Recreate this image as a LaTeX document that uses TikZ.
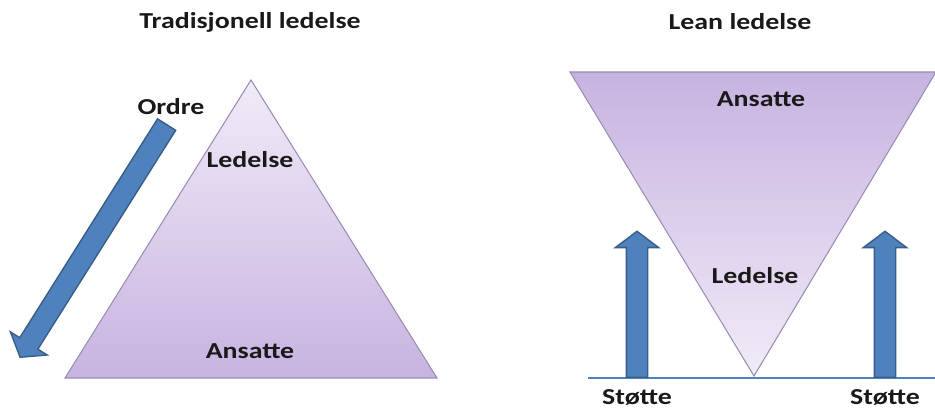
\documentclass[tikz,border=0pt]{standalone}
\usepackage{fontspec}
\setmainfont[FakeStretch=1.22]{Carlito}
\usepackage{tikz}
\usetikzlibrary{shapes.arrows,positioning,calc}

\definecolor{lilalys}{HTML}{F1EBF8}
\definecolor{lilamork}{HTML}{C7B3E0}
\definecolor{lilakant}{HTML}{9A8CB2}
\definecolor{pilblaa}{HTML}{4F81BD}
\definecolor{pilkant}{HTML}{385D8A}

\begin{document}
\begin{tikzpicture}[
    label/.style={font=\fontsize{13}{15}\selectfont\bfseries, text=black!90, inner sep=0pt},
    tri/.style={draw=lilakant, line width=0.6pt},
    pil/.style={single arrow, draw=pilkant, fill=pilblaa, line width=0.8pt,
        inner xsep=0pt, inner ysep=0.2cm, single arrow head extend=0.22cm,
        single arrow tip angle=106, anchor=tail}
]
    \useasboundingbox (0,0) rectangle (18.7,8.32);

    % tradisjonell ledelse
    \coordinate (topp) at (5.02,6.72);
    \coordinate (vbunn) at (1.30,0.76);
    \coordinate (hbunn) at (8.74,0.76);
    \shade[tri, top color=lilalys, bottom color=lilamork] (topp) -- (hbunn) -- (vbunn) -- cycle;

    \node[label] (tittel1) at (5.0,7.88) {Tradisjonell ledelse};
    \node[label] (leder1) at (5.0,5.12) {Ledelse};
    \node[label] (ansatt1) at (5.0,1.30) {Ansatte};
    \node[label] (ordre) at (3.42,6.18) {Ordre};
    \node[pil, minimum height=5.5cm, rotate=237.8] (ordrepil) at (3.34,5.84) {};

    % lean ledelse
    \coordinate (vtopp) at (11.40,6.88);
    \coordinate (htopp) at (18.72,6.88);
    \coordinate (spiss) at (15.08,0.80);
    \shade[tri, top color=lilamork, bottom color=lilalys] (vtopp) -- (htopp) -- (spiss) -- cycle;
    \coordinate (grunnv) at (11.76,0.76);
    \coordinate (grunnh) at (18.70,0.76);
    \draw[pilblaa, line width=0.7pt] (grunnv) -- (grunnh);

    \node[label] (tittel2) at (14.8,7.88) {Lean ledelse};
    \node[label] (ansatt2) at (15.22,6.34) {Ansatte};
    \node[label] (leder2) at (15.10,2.80) {Ledelse};

    \node[pil, minimum height=2.92cm, rotate=90] (stottepil1) at (12.74,0.76) {};
    \node[pil, minimum height=2.92cm, rotate=90] (stottepil2) at (17.70,0.76) {};
    \node[label, below=0.22cm of stottepil1.tail] (stotte1) {Støtte};
    \node[label, below=0.22cm of stottepil2.tail] (stotte2) {Støtte};
\end{tikzpicture}
\end{document}
